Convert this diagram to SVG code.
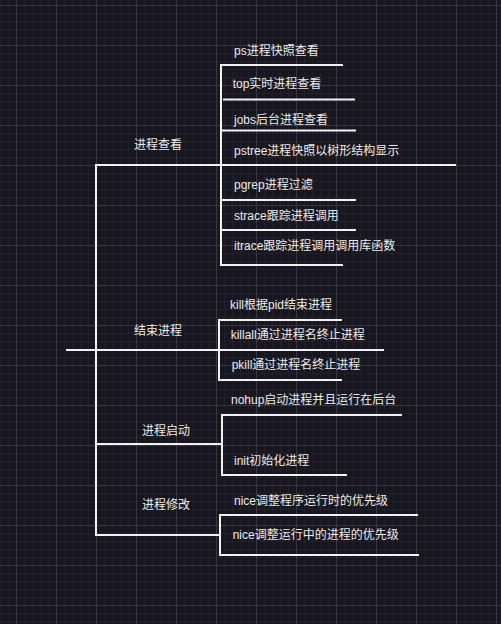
<svg xmlns="http://www.w3.org/2000/svg" width="501" height="624" viewBox="0 0 501 624">
<defs>
<pattern id="grid" patternUnits="userSpaceOnUse" x="16" y="5" width="40" height="40">
<rect width="40" height="40" fill="#18161e"/>
<g fill="#211f27">
<rect x="8" y="0" width="1" height="40"/><rect x="16" y="0" width="1" height="40"/><rect x="24" y="0" width="1" height="40"/><rect x="32" y="0" width="1" height="40"/>
<rect x="0" y="8" width="40" height="1"/><rect x="0" y="16" width="40" height="1"/><rect x="0" y="24" width="40" height="1"/><rect x="0" y="32" width="40" height="1"/>
</g>
<g fill="#38363e">
<rect x="0" y="0" width="1" height="40"/><rect x="0" y="0" width="40" height="1"/>
</g>
</pattern>
<style>
.c{fill:none;stroke:#f2f2f2;stroke-width:2}
text{font-family:"Liberation Sans","Noto Sans CJK SC",sans-serif;font-size:12px;fill:#ececec}
</style>
</defs>
<rect width="501" height="624" fill="url(#grid)"/>
<g id="connectors">
<path class="c" d="M96 165 H456"/>
<path class="c" d="M96 164 V536"/>
<path class="c" d="M66 350 H384"/>
<path class="c" d="M96 444 H221"/>
<path class="c" d="M96 535 H220"/>
<path class="c" d="M343 65 H221 V265 H343"/>
<path class="c" d="M223 99.5 H355"/>
<path class="c" d="M221 130.5 H356"/>
<path class="c" d="M221 200 H356"/>
<path class="c" d="M221 230 H356"/>
<path class="c" d="M342 320 H219 V380 H342"/>
<path class="c" d="M402 415 H222 V475 H347"/>
<path class="c" d="M418 515 H220 V555 H419"/>
</g>
<g id="n-view"><text x="134" y="149">进程查看</text></g>
<g id="n-ps"><text x="234" y="54.5">ps进程快照查看</text></g>
<g id="n-top"><text x="232.7" y="88">top实时进程查看</text></g>
<g id="n-jobs"><text x="234" y="123.5">jobs后台进程查看</text></g>
<g id="n-pstree"><text x="234" y="154.5">pstree进程快照以树形结构显示</text></g>
<g id="n-pgrep"><text x="234" y="188.5">pgrep进程过滤</text></g>
<g id="n-strace"><text x="234" y="219.5">strace跟踪进程调用</text></g>
<g id="n-itrace"><text x="234" y="249.5">itrace跟踪进程调用调用库函数</text></g>
<g id="n-end"><text x="134" y="334.5">结束进程</text></g>
<g id="n-kill"><text x="230" y="308.5">kill根据pid结束进程</text></g>
<g id="n-killall"><text x="230.7" y="338.5">killall通过进程名终止进程</text></g>
<g id="n-pkill"><text x="231.7" y="368.5">pkill通过进程名终止进程</text></g>
<g id="n-start"><text x="142" y="434.5">进程启动</text></g>
<g id="n-nohup"><text x="231" y="403.5">nohup启动进程并且运行在后台</text></g>
<g id="n-init"><text x="234" y="464.5">init初始化进程</text></g>
<g id="n-modify"><text x="142" y="508.5">进程修改</text></g>
<g id="n-nice1"><text x="234" y="504.5">nice调整程序运行时的优先级</text></g>
<g id="n-nice2"><text x="232.7" y="538.5">nice调整运行中的进程的优先级</text></g>
</svg>
